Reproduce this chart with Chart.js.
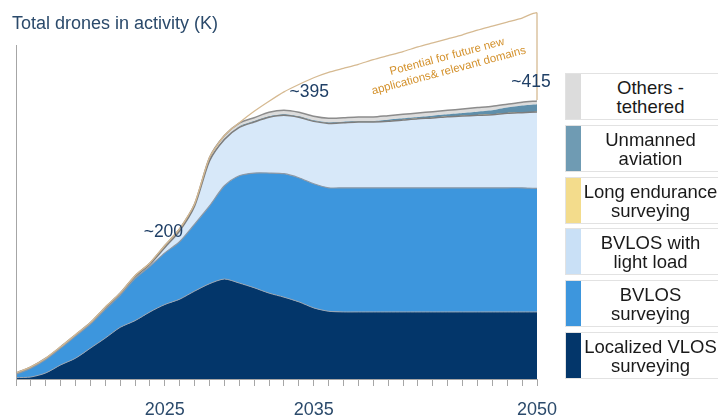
<!DOCTYPE html>
<html>
<head>
<meta charset="utf-8">
<script src="https://cdn.jsdelivr.net/npm/chart.js@4.4.1/dist/chart.umd.min.js"></script>
<style>
    body { margin: 0; background: #fff; font-family: "Liberation Sans", Arial, sans-serif; }
    #wrap { position: relative; width: 718px; height: 417px; overflow: hidden; }
    #chart { position: absolute; left: 0; top: 0; }
    .title { position: absolute; left: 12px; top: 13px; font-size: 18px; color: #2b4a6b; }
    .legend-item { position: absolute; left: 565px; width: 153px; height: 45px; border: 1px solid #e2e2e2; border-right: none; background: #fff; }
    .legend-item .strip { position: absolute; left: 0; top: 0; width: 15px; height: 100%; }
    .legend-item .txt { position: absolute; left: 12px; right: -4px; top: 0; bottom: 0; display: flex; align-items: center; justify-content: center; text-align: center; font-size: 18.5px; line-height: 19px; color: #1a1a1a; white-space: nowrap; }
</style>
</head>
<body>
<div id="wrap">
    <canvas id="chart" width="718" height="417"></canvas>
    <div class="title">Total drones in activity (K)</div>
    <div id="legend"></div>
</div>
<script>
// السنوات
const years = [2015, 2016, 2017, 2018, 2019, 2020, 2021, 2022, 2023, 2024, 2025, 2026,
    2027, 2028, 2029, 2030, 2031, 2032, 2033, 2034, 2035, 2036, 2037, 2038,
    2039, 2040, 2041, 2042, 2043, 2044, 2045, 2046, 2047, 2048, 2049, 2050];

// قيم كل شريحة (بالآلاف)
const localizedVlos = [2, 3, 9, 21, 31, 46, 61, 77, 87, 100, 111, 119,
    131, 142, 149, 143, 136, 128, 122, 115, 106, 101, 100, 100,
    100, 100, 100, 100, 100, 100, 100, 100, 100, 100, 100, 100];
const bvlosSurveying = [5, 13, 20, 25, 33, 36, 43, 48, 63, 68, 77, 86,
    100, 116, 139, 160, 171, 179, 184, 185, 185, 184, 185, 185,
    185, 185, 185, 185, 185, 185, 185, 185, 185, 185, 185, 184];
const bvlosLightLoad = [0, 0, 0, 0, 0, 0, 1, 1, 2, 3, 8, 16,
    27, 67, 69, 72, 76, 83, 87, 90, 93, 96, 97, 98,
    98, 99, 101, 103, 104, 106, 107, 108, 109, 111, 112, 114];
const longEndurance = [0, 0, 0, 0, 0, 0, 0, 0, 0, 0, 0, 0,
    0, 0, 0, 0.5, 0.5, 0.5, 0.5, 0.5, 0.5, 0.5, 0.5, 0.5,
    0.5, 0.5, 0.5, 0.5, 0.5, 0.5, 0.5, 0.5, 0.5, 0.5, 0.5, 0.5];
const unmannedAviation = [0, 0, 0, 0, 0, 0, 0, 0, 0, 0, 0, 0,
    0, 1, 1, 1, 1, 1, 1, 1, 1, 1, 1, 1,
    1, 2, 2, 2, 3, 3, 4, 5, 6, 8, 10, 11];
const othersTethered = [2, 2, 2, 2, 2, 2, 2, 2, 2, 2, 3, 3,
    3, 4, 5, 5, 5, 6, 6, 6, 6, 6, 6, 6,
    6, 6, 6, 6, 6, 6, 6, 6, 6, 5, 5, 5];

// خط الإمكانات المستقبلية
const potentialYears = [2015, 2016, 2017, 2018, 2019, 2020, 2021, 2022, 2023, 2024, 2025, 2026,
    2027, 2028, 2029, 2030, 2031, 2032, 2033, 2034, 2035, 2036, 2037, 2038,
    2039, 2040, 2041, 2042, 2043, 2044, 2045, 2046, 2047, 2048, 2049, 2050, 2050];
const potentialValues = [9, 18, 31, 48, 66, 84, 107, 128, 154, 173, 199, 224,
    261, 330, 363, 382, 399, 414, 428, 439, 449, 457, 463, 469,
    476, 482, 488, 495, 501, 507, 513, 520, 526, 532, 538, 545, 416];

const xTickLabels = [2025, 2035, 2050];
const yMax = 550;

// النصوص التوضيحية
const calloutTexts = ['~200', '~395', '~415'];
const calloutYears = [2024.9, 2034.7, 2049.6];
const calloutValues = [219, 428, 443];

const legendLabels = ['Others -<br>tethered', 'Unmanned<br>aviation', 'Long endurance<br>surveying',
    'BVLOS with<br>light load', 'BVLOS<br>surveying', 'Localized VLOS<br>surveying'];
const legendColors = ['#dcdcdc', '#6f9bb3', '#f3dc8c', '#c9e0f6', '#3d96dd', '#03366a'];

function pts(values) {
    return values.map((v, i) => ({ x: years[i], y: v }));
}

// بناء وسيلة الإيضاح
const legendTops = [73, 125, 177, 228, 280, 332];
const legendEl = document.getElementById('legend');
legendLabels.forEach((label, i) => {
    const item = document.createElement('div');
    item.className = 'legend-item';
    item.style.top = legendTops[i] + 'px';
    item.innerHTML = '<div class="strip" style="background:' + legendColors[i] + '"></div><div class="txt">' + label + '</div>';
    legendEl.appendChild(item);
});

const extrasPlugin = {
    id: 'extras',
    afterDraw(chart) {
        const ctx = chart.ctx;
        const xs = chart.scales.x;
        const ys = chart.scales.y;
        const area = chart.chartArea;
        ctx.save();
        // المحور العمودي
        ctx.strokeStyle = '#a6a6a6';
        ctx.lineWidth = 1;
        ctx.beginPath();
        ctx.moveTo(area.left + 0.5, 45);
        ctx.lineTo(area.left + 0.5, area.bottom);
        ctx.stroke();

        ctx.fillStyle = '#1f3f66';
        ctx.font = '17.5px "Liberation Sans", Arial, sans-serif';
        ctx.textAlign = 'center';
        ctx.textBaseline = 'middle';
        calloutTexts.forEach((t, i) => {
            ctx.fillText(t, xs.getPixelForValue(calloutYears[i]), ys.getPixelForValue(calloutValues[i]));
        });

        // نص الإمكانات
        ctx.fillStyle = '#d4922e';
        ctx.font = '11.5px "Liberation Sans", Arial, sans-serif';
        ctx.translate(447, 64);
        ctx.rotate(-15 * Math.PI / 180);
        ctx.fillText('Potential for future new', 2, -7);
        ctx.fillText('applications& relevant domains', 0, 7);
        ctx.restore();
    }
};

const commonArea = {
    pointRadius: 0,
    tension: 0.25,
    fill: '-1'
};

new Chart(document.getElementById('chart'), {
    type: 'line',
    data: {
        datasets: [
            Object.assign({}, commonArea, { label: 'Localized VLOS surveying', data: pts(localizedVlos), fill: 'origin',
                backgroundColor: '#03366a', borderColor: '#9aa6b4', borderWidth: 1 }),
            Object.assign({}, commonArea, { label: 'BVLOS surveying', data: pts(bvlosSurveying),
                backgroundColor: '#3d96dd', borderColor: '#8d99a6', borderWidth: 1.2 }),
            Object.assign({}, commonArea, { label: 'BVLOS with light load', data: pts(bvlosLightLoad),
                backgroundColor: '#d7e8f9', borderColor: '#7d7d7d', borderWidth: 1.5 }),
            Object.assign({}, commonArea, { label: 'Long endurance surveying', data: pts(longEndurance),
                backgroundColor: '#f3dc8c', borderWidth: 0 }),
            Object.assign({}, commonArea, { label: 'Unmanned aviation', data: pts(unmannedAviation),
                backgroundColor: '#5f8fab', borderWidth: 0 }),
            Object.assign({}, commonArea, { label: 'Others - tethered', data: pts(othersTethered),
                backgroundColor: '#dcdcdc', borderColor: '#8c8c8c', borderWidth: 1.5 }),
            {
                label: 'Potential',
                data: potentialValues.map((v, i) => ({ x: potentialYears[i], y: v })),
                yAxisID: 'yPot',
                order: -1,
                fill: false,
                pointRadius: 0,
                tension: 0.2,
                borderColor: '#d6ba92',
                borderWidth: 1.3,
                clip: false
            }
        ]
    },
    options: {
        responsive: false,
        animation: false,
        events: [],
        layout: { padding: { left: 16, right: 181, top: 10, bottom: 0 } },
        plugins: {
            legend: { display: false },
            tooltip: { enabled: false }
        },
        scales: {
            x: {
                type: 'linear',
                min: 2015,
                max: 2050,
                afterFit: s => { s.height = 38; },
                afterBuildTicks: s => { s.ticks = years.map(y => ({ value: y })); },
                grid: { drawOnChartArea: false, drawTicks: true, tickLength: 7, color: '#a6a6a6' },
                border: { color: '#a6a6a6' },
                ticks: {
                    autoSkip: false,
                    maxRotation: 0,
                    padding: 13,
                    color: '#2b4a6b',
                    font: { family: '"Liberation Sans", Arial, sans-serif', size: 18 },
                    callback: v => xTickLabels.includes(v) ? String(v) : ''
                }
            },
            y: {
                stacked: true,
                min: 0,
                max: yMax,
                afterFit: s => { s.width = 0; },
                grid: { display: false },
                border: { display: false },
                ticks: { display: false }
            },
            yPot: {
                display: false,
                min: 0,
                max: yMax
            }
        }
    },
    plugins: [extrasPlugin]
});
</script>
</body>
</html>
